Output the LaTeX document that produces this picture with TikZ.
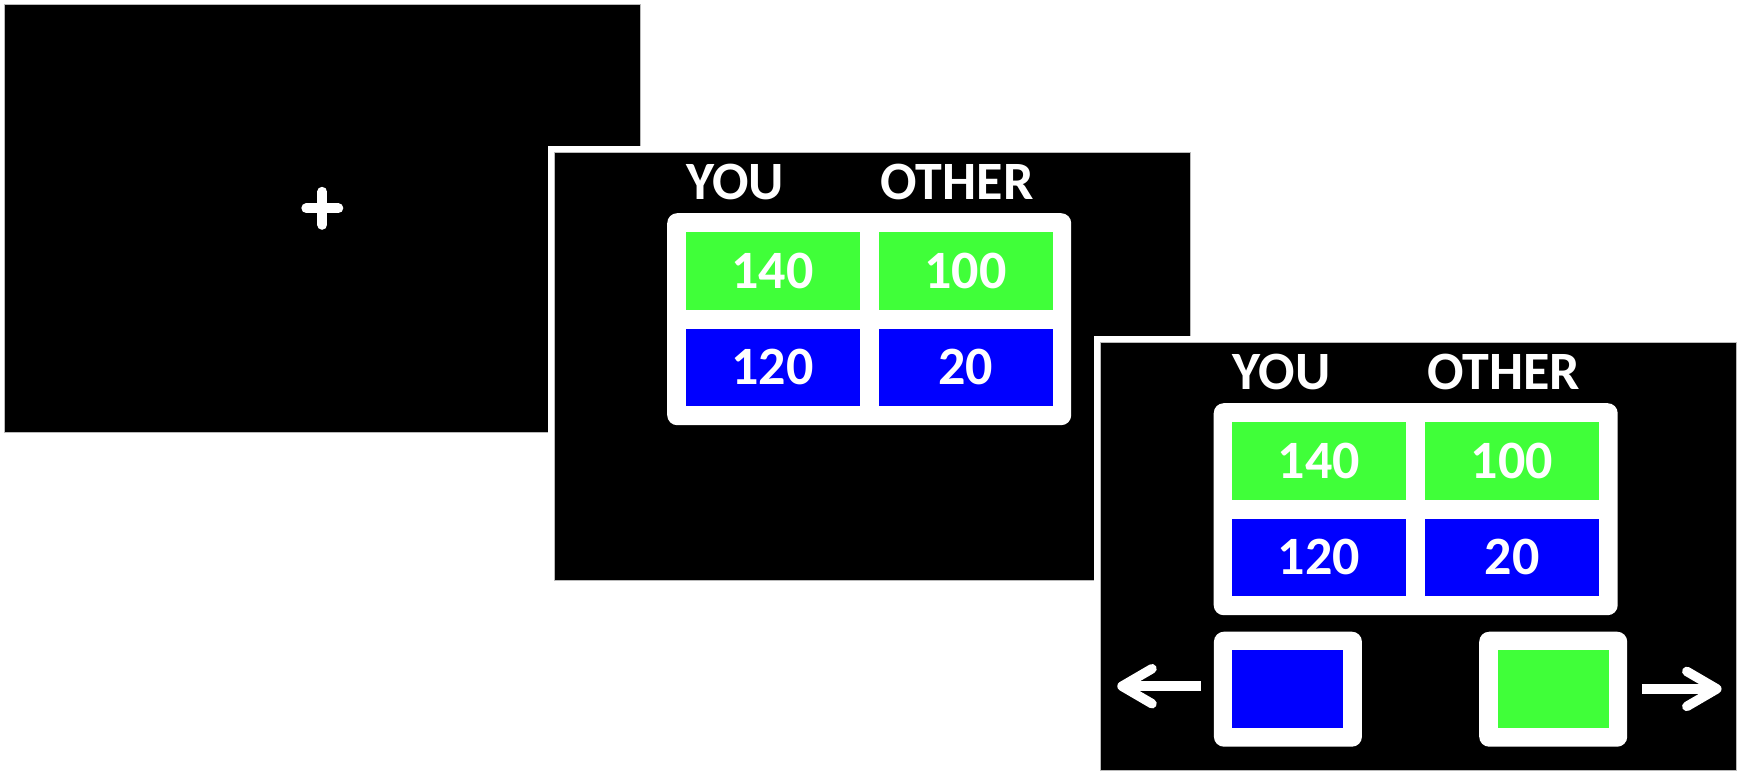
\documentclass[tikz,border=0pt]{standalone}
\usepackage{fontspec}
\setmainfont{Carlito}
\definecolor{cgreen}{RGB}{64,255,57}
\definecolor{cblue}{RGB}{0,0,255}
\tikzset{
  panel/.style={fill=black, draw=gray!55, line width=0.8pt},
  frame/.style={fill=white},
  tbl/.style={fill=white, rounded corners=10pt, inner sep=0pt, minimum width=404pt, minimum height=212pt, anchor=north west},
  txt/.style={text=white, font=\fontsize{54}{60}\selectfont\bfseries},
  cell/.style={txt, inner sep=0pt, minimum width=174pt, minimum height=77.5pt},
  head/.style={txt, anchor=base, inner sep=0pt},
  box/.style={fill=white, rounded corners=10pt, inner sep=0pt, minimum width=148pt, minimum height=115pt},
  swatch/.style={inner sep=0pt, minimum width=111pt, minimum height=77.7pt},
  shaft/.style={white, line width=9.5pt},
  arm/.style={white, line width=9.5pt, line cap=round, line join=round},
  crossline/.style={white, line width=10pt, line cap=round},
  trial/.pic={
    \fill[frame] (-6.5,-6.5) rectangle (642.5,434.5);
    \filldraw[panel] (0,0) rectangle (636,428);
    \node[tbl] (-tbl) at (113,61) {};
    \node[cell, fill=cgreen] (-a) at (218.5,118.75) {140};
    \node[cell, fill=cgreen] (-b) at (411.5,118.75) {100};
    \node[cell, fill=cblue] (-c) at (218.5,215.25) {120};
    \node[cell, fill=cblue] (-d) at (411.5,215.25) {20};
    \node[head] (-you) at (181,47) {YOU};
    \node[head] (-oth) at (403,47) {OTHER};
  }
}
\begin{document}
\begin{tikzpicture}[x=1pt, y=-1pt]
\useasboundingbox (0,0) rectangle (1742,771);
% panel 1: fixation
\filldraw[panel] (4.5,4.3) rectangle (640.6,432.3);
\coordinate (cross) at (322.3,208.3);
\draw[crossline] ([xshift=-16pt]cross) -- ([xshift=16pt]cross);
\draw[crossline] ([yshift=-16.5pt]cross) -- ([yshift=16.5pt]cross);
% panel 2: options
\pic (p2) at (554,152) {trial};
% panel 3: options and choice
\pic (p3) at (1100.5,342) {trial};
\begin{scope}[shift={(1100.5,342)}]
  \node[box] (lbox) at (187.4,347.2) {};
  \node[swatch, fill=cblue] (lsw) at (lbox.center) {};
  \node[box] (rbox) at (452.7,347.2) {};
  \node[swatch, fill=cgreen] (rsw) at (rbox.center) {};
  \coordinate (ltip) at (21.5,344.2);
  \coordinate (lend) at (100.5,344.2);
  \draw[shaft] (lend) -- (ltip);
  \draw[arm] ([shift={(30,-17.5)}]ltip) -- (ltip) -- ([shift={(30,17.5)}]ltip);
  \coordinate (rstart) at (541.3,346.9);
  \coordinate (rtip) at (616.3,346.9);
  \draw[shaft] (rstart) -- (rtip);
  \draw[arm] ([shift={(-30,-17.5)}]rtip) -- (rtip) -- ([shift={(-30,17.5)}]rtip);
\end{scope}
\end{tikzpicture}
\end{document}
